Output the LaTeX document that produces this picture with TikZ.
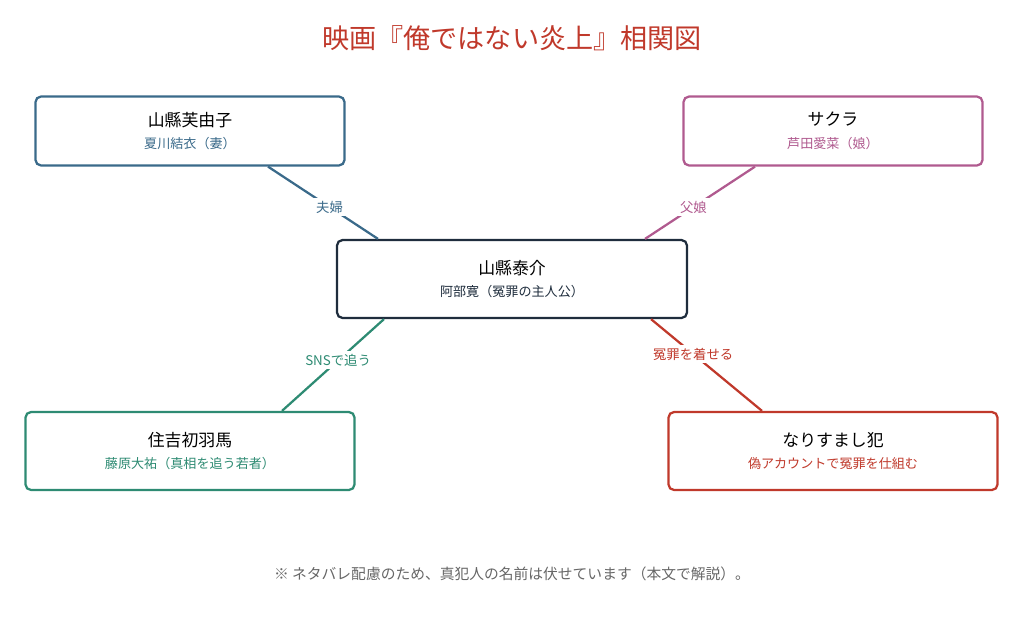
\documentclass[tikz,border=0pt]{standalone}
\usepackage{fontspec}
\setmainfont{Noto Sans CJK JP}
\usetikzlibrary{positioning, calc}
\definecolor{TitleColor}{RGB}{192,57,43}
\definecolor{CoupleColor}{RGB}{58,106,138}
\definecolor{DaughterColor}{RGB}{176,90,143}
\definecolor{HeroColor}{RGB}{31,45,61}
\definecolor{SnsColor}{RGB}{46,139,115}
\definecolor{CulpritColor}{RGB}{192,57,43}
\definecolor{NoteColor}{RGB}{102,102,102}
\tikzset{
  person/.style={draw=#1, line width=1.6pt, rounded corners=4pt, fill=white, align=center, inner sep=0pt},
  relation/.style={draw=#1, line width=1.6pt},
  rellabel/.style={fill=white, text=#1, font=\fontsize{9.5}{11}\selectfont, inner sep=2pt}
}
\newcommand{\pname}[1]{{\fontsize{12}{14}\selectfont #1}}
\newcommand{\prole}[2]{{\fontsize{9.3}{11}\selectfont\color{#1}#2}}
\begin{document}
\begin{tikzpicture}[x=0.025cm, y=-0.025cm]
  \useasboundingbox (0,0) rectangle (1024,633);
  % title
  \node[text=TitleColor, font=\fontsize{19.3}{22}\selectfont] (title) at (512,38) {映画『俺ではない炎上』相関図};

  % people
  \node[person=HeroColor, minimum width=8.75cm, minimum height=1.95cm] (hero) at (512,279)
    {\pname{山縣泰介}\\[4pt]\prole{HeroColor}{阿部寛（冤罪の主人公）}};
  \node[person=CoupleColor, minimum width=7.725cm, minimum height=1.725cm] (wife) at (190,131)
    {\pname{山縣芙由子}\\[4pt]\prole{CoupleColor}{夏川結衣（妻）}};
  \node[person=DaughterColor, minimum width=7.475cm, minimum height=1.725cm] (daughter) at (833,131)
    {\pname{サクラ}\\[4pt]\prole{DaughterColor}{芦田愛菜（娘）}};
  \node[person=SnsColor, minimum width=8.225cm, minimum height=1.95cm] (chaser) at (190,451)
    {\pname{住吉初羽馬}\\[4pt]\prole{SnsColor}{藤原大祐（真相を追う若者）}};
  \node[person=CulpritColor, minimum width=8.225cm, minimum height=1.95cm] (culprit) at (833,451)
    {\pname{なりすまし犯}\\[4pt]\prole{CulpritColor}{偽アカウントで冤罪を仕組む}};

  % relations
  \draw[relation=CoupleColor] ([xshift=1.95cm]wife.south) -- node[rellabel=CoupleColor, pos=0.56] {夫婦} ([xshift=-3.35cm]hero.north);
  \draw[relation=DaughterColor] ([xshift=-1.95cm]daughter.south) -- node[rellabel=DaughterColor, pos=0.56] {父娘} ([xshift=3.325cm]hero.north);
  \draw[relation=SnsColor] ([xshift=-3.2cm]hero.south) -- node[rellabel=SnsColor, pos=0.45] {SNSで追う} ([xshift=2.3cm]chaser.north);
  \draw[relation=CulpritColor] ([xshift=3.475cm]hero.south) -- node[rellabel=CulpritColor, pos=0.38] {冤罪を着せる} ([xshift=-1.775cm]culprit.north);

  % note
  \node[text=NoteColor, font=\fontsize{10.5}{12}\selectfont] (note) at (512,574) {※ ネタバレ配慮のため、真犯人の名前は伏せています（本文で解説）。};
\end{tikzpicture}
\end{document}
